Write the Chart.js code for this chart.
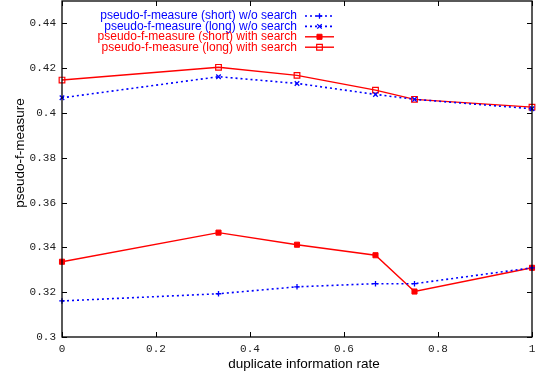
<!DOCTYPE html>
<html><head><meta charset="utf-8">
<script src="https://cdn.jsdelivr.net/npm/chart.js@4/dist/chart.umd.min.js"></script>
<style>html,body{margin:0;padding:0;background:#fff;}#wrap{width:542px;height:378px;}</style>
</head><body><div id="wrap"><canvas id="c" width="542" height="378"></canvas></div>
<script>
const xRates = [0, 0.333, 0.5, 0.667, 0.75, 1];
const shortNoSearch = [0.3161, 0.3193, 0.3224, 0.3238, 0.3238, 0.3309];
const longNoSearch  = [0.4068, 0.4162, 0.4132, 0.4083, 0.4061, 0.4019];
const shortSearch   = [0.3336, 0.3466, 0.3412, 0.3365, 0.3203, 0.3309];
const longSearch    = [0.4147, 0.4204, 0.4168, 0.4102, 0.4061, 0.4026];
const seriesLabels = [
  'pseudo-f-measure (short) w/o search',
  'pseudo-f-measure (long) w/o search',
  'pseudo-f-measure (short) with search',
  'pseudo-f-measure (long) with search'
];
const xTickValues = [0, 0.2, 0.4, 0.6, 0.8, 1];
const xTickLabels = ['0', '0.2', '0.4', '0.6', '0.8', '1'];
const yTickValues = [0.3, 0.32, 0.34, 0.36, 0.38, 0.4, 0.42, 0.44];
const yTickLabels = ['0.3', '0.32', '0.34', '0.36', '0.38', '0.4', '0.42', '0.44'];
const xTitle = 'duplicate information rate';
const yTitle = 'pseudo-f-measure';

const pts = arr => arr.map((v, i) => ({x: xRates[i], y: v}));
const BLUE = '#0000ff', RED = '#ff0000';

const datasets = [
  {label: seriesLabels[0], data: pts(shortNoSearch), borderColor: BLUE, backgroundColor: BLUE,
   borderWidth: 1.6, borderDash: [2, 3], pointStyle: 'cross', pointRadius: 2.8, pointBorderWidth: 1.3},
  {label: seriesLabels[1], data: pts(longNoSearch), borderColor: BLUE, backgroundColor: BLUE,
   borderWidth: 1.6, borderDash: [2, 3], pointStyle: 'crossRot', pointRadius: 3.2, pointBorderWidth: 1.3},
  {label: seriesLabels[2], data: pts(shortSearch), borderColor: RED, backgroundColor: RED,
   borderWidth: 1.4, pointStyle: 'rect', pointRadius: 3.6, pointBorderWidth: 1},
  {label: seriesLabels[3], data: pts(longSearch), borderColor: RED, backgroundColor: 'rgba(255,255,255,0)',
   borderWidth: 1.4, pointStyle: 'rect', pointRadius: 4, pointBorderWidth: 1.2}
];
datasets.forEach(d => { d.fill = false; d.tension = 0; d.clip = false;
  d.pointBackgroundColor = d.backgroundColor; d.pointBorderColor = d.borderColor; });

const TITLE_FONT = '13.5px "Liberation Sans", Arial, sans-serif';

const framePlugin = {
  id: 'frame',
  afterDatasetsDraw(chart) {
    const {ctx, chartArea: a, scales: {x, y}} = chart;
    ctx.save();
    ctx.strokeStyle = '#000';
    ctx.lineWidth = 1;
    ctx.beginPath();
    xTickValues.forEach(v => {
      const px = Math.round(x.getPixelForValue(v)) + 0.5;
      ctx.moveTo(px, a.bottom); ctx.lineTo(px, a.bottom - 5);
      ctx.moveTo(px, a.top); ctx.lineTo(px, a.top + 5);
    });
    yTickValues.forEach(v => {
      const py = Math.round(y.getPixelForValue(v)) + 0.5;
      ctx.moveTo(a.left, py); ctx.lineTo(a.left + 5, py);
      ctx.moveTo(a.right, py); ctx.lineTo(a.right - 5, py);
    });
    ctx.stroke();
    ctx.lineWidth = 1.3;
    ctx.strokeRect(a.left, a.top, a.right - a.left, a.bottom - a.top);
    ctx.restore();
  },
  afterDraw(chart) {
    const ctx = chart.ctx;
    ctx.save();
    ctx.fillStyle = '#000';
    ctx.font = TITLE_FONT;
    ctx.textAlign = 'center';
    ctx.textBaseline = 'middle';
    ctx.fillText(xTitle, 304, 364);
    ctx.save();
    ctx.translate(20, 153);
    ctx.rotate(-Math.PI / 2);
    ctx.fillText(yTitle, 0, 0);
    ctx.restore();
    ctx.font = '12px "Liberation Sans", Arial, sans-serif';
    ctx.textAlign = 'right';
    const textRight = 297, x0 = 305, x1 = 334;
    chart.data.datasets.forEach((d, i) => {
      const yy = 16 + i * 10.4;
      ctx.fillStyle = d.borderColor;
      ctx.fillText(d.label, textRight, yy);
      ctx.strokeStyle = d.borderColor;
      ctx.lineWidth = d.borderWidth;
      ctx.setLineDash(d.borderDash || []);
      ctx.beginPath(); ctx.moveTo(x0, yy); ctx.lineTo(x1, yy); ctx.stroke();
      ctx.setLineDash([]);
      ctx.fillStyle = d.pointBackgroundColor;
      ctx.lineWidth = d.pointBorderWidth;
      Chart.helpers.drawPoint(ctx, {pointStyle: d.pointStyle, radius: d.pointRadius, rotation: 0, borderWidth: d.pointBorderWidth}, (x0 + x1) / 2, yy);
    });
    ctx.restore();
  }
};

new Chart(document.getElementById('c'), {
  type: 'line',
  data: {datasets},
  options: {
    responsive: false,
    animation: false,
    devicePixelRatio: 1,
    layout: {autoPadding: false, padding: {left: 0, right: 10, top: 1, bottom: 0}},
    plugins: {legend: {display: false}, tooltip: {enabled: false}},
    scales: {
      x: {
        type: 'linear', min: 0, max: 1,
        afterFit: s => { s.height = 41; s.paddingLeft = 0; s.paddingRight = 0; },
        afterBuildTicks: s => { s.ticks = xTickValues.map(v => ({value: v})); },
        grid: {display: false, drawTicks: false},
        border: {display: false},
        ticks: {
          padding: 5, color: '#222', maxRotation: 0, autoSkip: false,
          font: {family: '"Liberation Mono", "Courier New", monospace', size: 11},
          callback: (v, i) => xTickLabels[i]
        },
        title: {display: false}
      },
      y: {
        type: 'linear', min: 0.3, max: 0.45,
        afterFit: s => { s.width = 62; s.paddingTop = 0; s.paddingBottom = 0; },
        afterBuildTicks: s => { s.ticks = yTickValues.map(v => ({value: v})); },
        grid: {display: false, drawTicks: false},
        border: {display: false},
        ticks: {
          padding: 6, color: '#222', autoSkip: false,
          font: {family: '"Liberation Mono", "Courier New", monospace', size: 11},
          callback: (v, i) => yTickLabels[i]
        },
        title: {display: false}
      }
    }
  },
  plugins: [framePlugin]
});
</script>
</body></html>
